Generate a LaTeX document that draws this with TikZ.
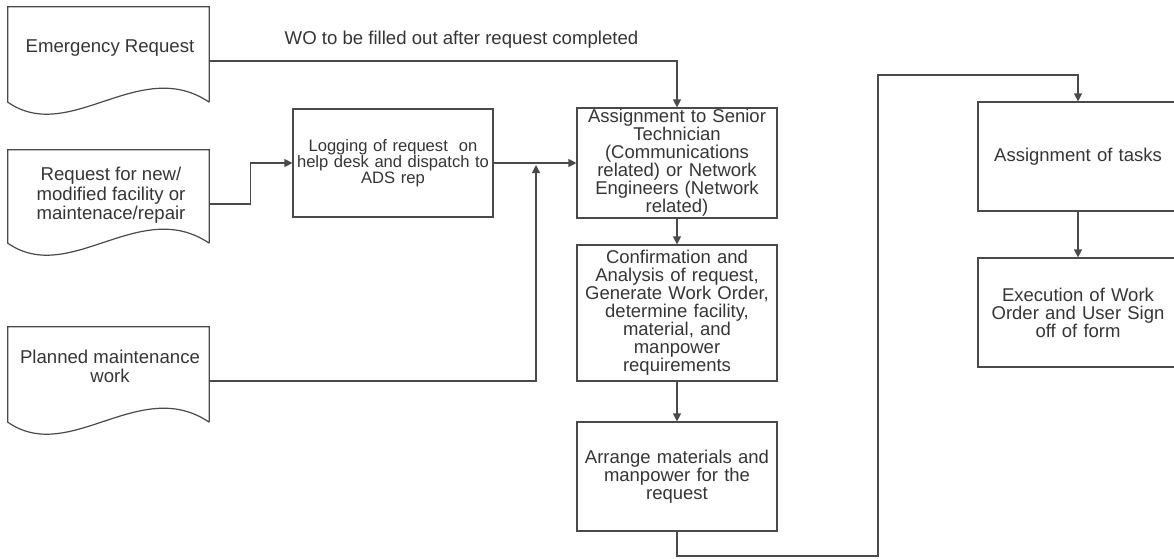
\documentclass[tikz,border=0pt]{standalone}
\usepackage{fontspec}
\setmainfont{Liberation Sans}
\usetikzlibrary{arrows.meta,calc}
\definecolor{ln}{HTML}{4A4A4A}
\definecolor{tx}{HTML}{353535}
\newcommand{\docoutline}[1]{%
  \draw[docline] (#1.south east) -- (#1.north east) -- (#1.north west) -- (#1.south west)
    .. controls ($(#1.south west)+(62,43)$) and ($(#1.south west)+(132,-47)$) .. (#1.south east);}
\begin{document}
\begin{tikzpicture}[x=1pt,y=-1pt,
  docline/.style={draw=ln,line width=1.2pt},
  docshape/.style={draw=none,minimum width=201pt,inner sep=0pt},
  txt/.style={text=tx,align=center,inner sep=0pt,font=\fontsize{18.6}{19.5}\selectfont},
  procbox/.style={draw=ln,line width=1.2pt,text=tx,align=center,minimum width=200pt,inner sep=0pt,
    text width=196pt,font=\fontsize{18.5}{18}\selectfont},
  conn/.style={draw=ln,line width=1.2pt},
  arr/.style={conn,-{Triangle[length=8pt,width=8pt]}}]
\useasboundingbox (0,0) rectangle (1174,558);
% document shapes
\node[docshape,minimum height=95pt] (er) at (108.5,54.5) {};
\node[docshape,minimum height=93pt] (rq) at (108.5,196.5) {};
\node[docshape,minimum height=95pt] (pm) at (108.5,374.5) {};
\docoutline{er}
\docoutline{rq}
\docoutline{pm}
\node[txt] (er-t) at (110,48) {Emergency Request};
\node[txt] (rq-t) at (111,195.5) {Request for new/\\modified facility or\\maintenace/repair};
\node[txt] (pm-t) at (110,366.5) {Planned maintenance\\work};
% process boxes
\node[procbox,minimum height=108pt,font=\fontsize{16.6}{16}\selectfont] (log) at (393,163) {Logging of request\ \ on\\help desk and dispatch to\\ADS rep};
\node[procbox,minimum height=110pt] (as) at (677,163) {Assignment to Senior\\Technician\\(Communications\\related) or Network\\Engineers (Network\\related)};
\node[procbox,minimum height=136pt] (cf) at (677,313) {Confirmation and\\Analysis of request,\\Generate Work Order,\\determine facility,\\material, and\\manpower\\requirements};
\node[procbox,minimum height=109pt] (ar) at (677,476.5) {Arrange materials and\\manpower for the\\request};
\node[procbox,minimum height=109pt] (at) at (1078,156.5) {Assignment of tasks};
\node[procbox,minimum height=109pt] (ex) at (1078,312.5) {Execution of Work\\Order and User Sign\\off of form};
% label
\node[txt] (wo) at (461.5,40) {WO to be filled out after request completed};
% coordinates
\coordinate (jn) at (536,165);
\coordinate (b1) at (878,556);
\coordinate (t1) at (878,75);
% connectors
\draw[arr] ($(er.east)+(0,6.5)$) -| (as.north);
\draw[arr] ($(rq.east)+(0,7.5)$) -- ++(41,0) |- (log.west);
\draw[arr] (log.east) -- (as.west);
\draw[arr] ($(pm.east)+(0,6.5)$) -| (jn);
\draw[arr] (as.south) -- (cf.north);
\draw[arr] (cf.south) -- (ar.north);
\draw[arr] (ar.south) |- (b1) -- (t1) -| (at.north);
\draw[arr] (at.south) -- (ex.north);
\end{tikzpicture}
\end{document}
